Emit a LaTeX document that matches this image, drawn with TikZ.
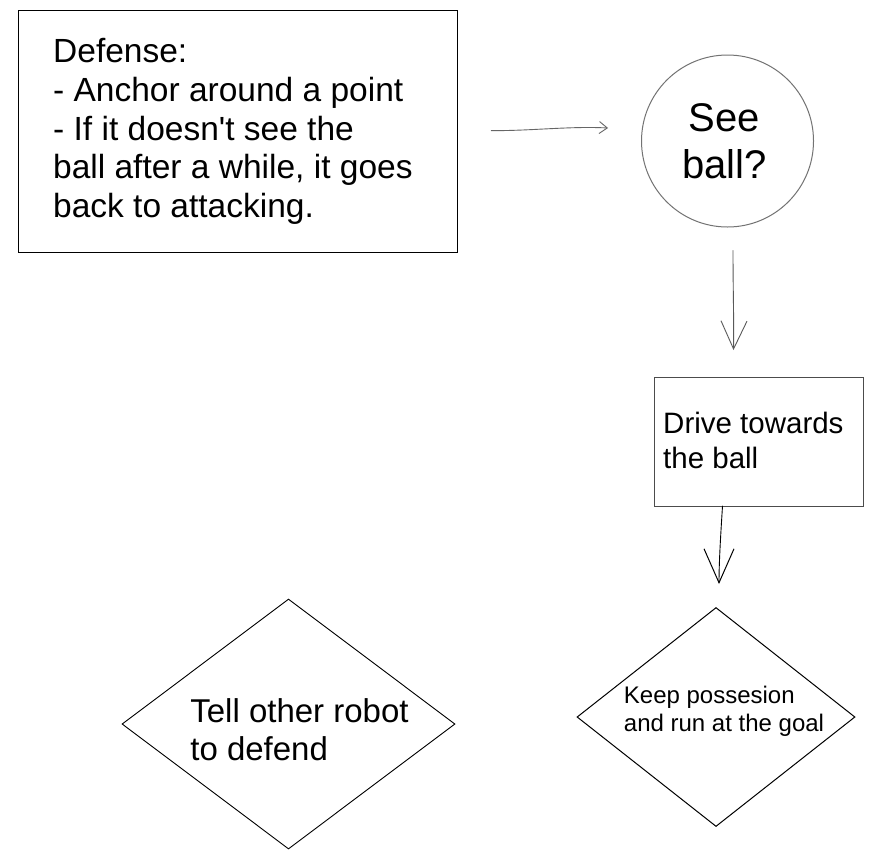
\documentclass[tikz,border=0pt]{standalone}
\usepackage{fontspec}
\setmainfont{Liberation Sans}
\newfontfamily\plainsans{Liberation Sans}
\usetikzlibrary{shapes.geometric,arrows.meta}
\begin{document}
\begin{tikzpicture}[x=1pt,y=-1pt,
  shapeline/.style={draw=black, line width=1pt},
  lbl/.style={inner sep=0pt, align=left, text=black},
  conn/.style={line cap=round, line join=round, line width=0.9pt},
  smallhead/.style={-{Straight Barb[length=8pt,width=12pt,line width=0.9pt]}},
  bighead/.style={-{Straight Barb[length=28pt,width=26pt,line width=0.9pt]}},
  hugehead/.style={-{Straight Barb[length=34pt,width=30pt,line width=1pt]}}
]
\useasboundingbox (0,0) rectangle (874,857);
\fill[white] (0,0) rectangle (874,857);

% Defense box
\node[shapeline, line width=1.2pt, minimum width=439pt, minimum height=242pt, inner sep=0pt, anchor=north west,
  label={[lbl, anchor=west, xshift=35pt, font=\plainsans\fontsize{33.5}{38.7}\selectfont]west:{Defense:\\- Anchor around a point\\- If it doesn't see the\\ball after a while, it goes\\back to attacking.}}]
  (defense) at (18,10) {};

% See ball? circle
\node[circle, draw=black!55, line width=1pt, minimum size=172pt, inner sep=0pt,
  label={[lbl, align=center, anchor=center, xshift=-3pt, font=\plainsans\fontsize{40}{47}\selectfont]center:{See\\ball?}}]
  (see) at (727.5,141) {};

% Drive box
\node[draw=black!70, line width=1pt, minimum width=209pt, minimum height=129pt, inner sep=0pt, anchor=north west,
  label={[lbl, anchor=west, xshift=9pt, yshift=2pt, font=\plainsans\fontsize{29.5}{35}\selectfont]west:{Drive towards\\the ball}}]
  (drive) at (654,377) {};

% Keep possession diamond
\node[diamond, shapeline, minimum width=278pt, minimum height=219pt, inner sep=0pt,
  label={[lbl, anchor=center, xshift=8pt, yshift=6pt, font=\plainsans\fontsize{24}{28}\selectfont]center:{Keep possesion\\and run at the goal}}]
  (keep) at (716,717) {};

% Tell other robot diamond
\node[diamond, draw=black, line width=0.9pt, minimum width=333pt, minimum height=250pt, inner sep=0pt,
  label={[lbl, anchor=center, xshift=11pt, yshift=-6pt, font=\plainsans\fontsize{33}{38}\selectfont]center:{Tell other robot\\to defend}}]
  (tell) at (288.5,724) {};

% connectors
\coordinate (a1s) at ([xshift=33pt,yshift=1pt]defense.east);
\coordinate (a1e) at ([xshift=-33pt,yshift=13pt]see.west);
\coordinate (a2s) at ([xshift=5.5pt,yshift=-23pt]see.south);
\coordinate (a2e) at ([xshift=-25.5pt,yshift=27pt]drive.north);
\coordinate (a3s) at ([xshift=-36.5pt,yshift=1pt]drive.south);
\coordinate (a3e) at ([xshift=3pt,yshift=23pt]keep.north);

\draw[conn, draw=black!60, smallhead] (a1s) .. controls (530,131) and (570,126) .. (a1e);
\draw[conn, draw=black!65, bighead] (a2s) .. controls (733,290) and (734,320) .. (a2e);
\draw[conn, draw=black, hugehead] (a3s) .. controls (721,530) and (719,560) .. (a3e);
\end{tikzpicture}
\end{document}
